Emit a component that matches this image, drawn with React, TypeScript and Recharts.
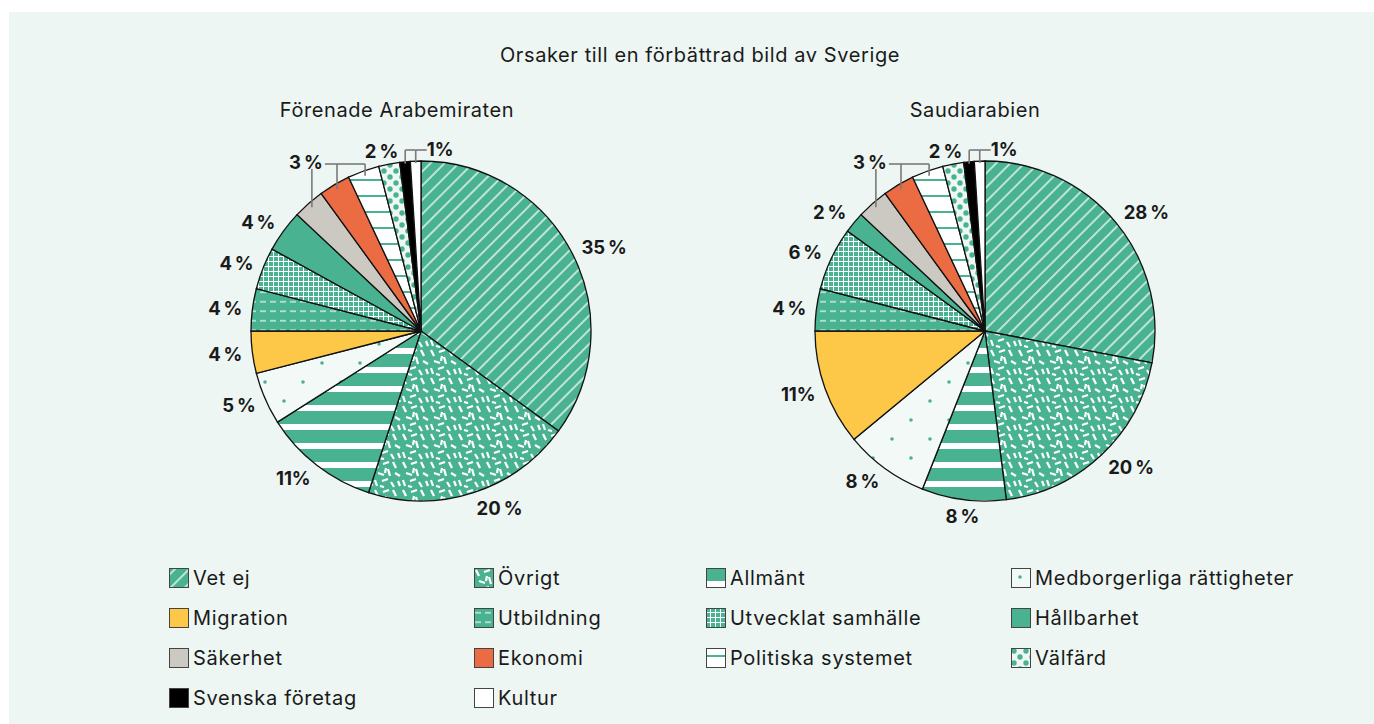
import React from 'react';
import { PieChart, Pie, Cell } from 'recharts';

const chartTitle = 'Orsaker till en förbättrad bild av Sverige';
const pieTitles = ['Förenade Arabemiraten', 'Saudiarabien'];
const categories = [
	'Vet ej', 'Övrigt', 'Allmänt', 'Medborgerliga rättigheter',
	'Migration', 'Utbildning', 'Utvecklat samhälle', 'Hållbarhet',
	'Säkerhet', 'Ekonomi', 'Politiska systemet', 'Välfärd',
	'Svenska företag', 'Kultur',
];
const uaeValues = [35, 20, 11, 5, 4, 4, 4, 4, 3, 3, 3, 2, 1, 1];
const saudiValues = [28, 20, 8, 8, 11, 4, 6, 2, 3, 3, 3, 2, 1, 1];

// slices whose labels are gathered with a bracket above the pie
const bracketBefore = ['Säkerhet', 'Ekonomi', 'Politiska systemet'];
const bracketAfter = ['Svenska företag', 'Kultur'];
const besideBracket = 'Välfärd';

const GREEN = '#49b291';
const FONT = 'Inter, "Noto Sans", sans-serif';
const fills = [
	'url(#p-vetej)', 'url(#p-ovrigt)', 'url(#p-allmant)', 'url(#p-medb)',
	'#fdc748', 'url(#p-utb)', 'url(#p-utv)', GREEN,
	'#ccc9c3', '#eb6b43', 'url(#p-pol)', 'url(#p-valf)',
	'#000000', '#ffffff',
];

const RAD = Math.PI / 180;

function fmt(v: number) {
	return String(v).endsWith('1') ? v + '%' : v + '\u2009%';
}

function makeLabel(values: number[]) {
	const total = values.reduce((a, b) => a + b, 0);
	const mids: number[] = [];
	let acc = 0;
	for (let v of values) {
		mids.push(90 - 360 * (acc + v / 2) / total);
		acc += v;
	}
	const idxBefore = bracketBefore.map(n => categories.indexOf(n));
	const idxAfter = bracketAfter.map(n => categories.indexOf(n));
	const idxBeside = categories.indexOf(besideBracket);

	return (props: any) => {
		const { cx, cy, outerRadius, index } = props;
		const r = outerRadius;
		const pt = (i: number, rr: number) => ({
			x: cx + rr * Math.cos(-mids[i] * RAD),
			y: cy + rr * Math.sin(-mids[i] * RAD),
		});
		const lineStyle = { stroke: '#7a7a7a', strokeWidth: 1.6, fill: 'none' };
		const textStyle: any = { fontFamily: FONT, fontWeight: 700, fontSize: 18.5, fill: '#1a1a1a' };

		let j = idxBefore.indexOf(index);
		if (j >= 0) {
			const lineY = cy - r + 3;
			const p = pt(index, r - 5);
			if (j === 0) {
				return (
					<g key={'l' + index}>
						<line x1={p.x} y1={lineY + 5} x2={p.x} y2={p.y} style={lineStyle} />
						<text x={p.x - 6} y={lineY - 2} textAnchor="middle" dominantBaseline="central" style={textStyle}>{fmt(values[index])}</text>
					</g>
				);
			}
			const first = pt(idxBefore[0], r - 5);
			const prevX = j === 1 ? first.x + 13 : pt(idxBefore[j - 1], r - 5).x;
			return (
				<g key={'l' + index}>
					<line x1={p.x} y1={lineY} x2={p.x} y2={p.y} style={lineStyle} />
					<line x1={prevX} y1={lineY} x2={p.x} y2={lineY} style={lineStyle} />
				</g>
			);
		}

		j = idxAfter.indexOf(index);
		if (j >= 0) {
			const lineY = cy - r - 11;
			const p = pt(index, r - 2);
			const parts = [<line key="v" x1={p.x} y1={lineY} x2={p.x} y2={p.y} style={lineStyle} />];
			if (j > 0) {
				const prev = pt(idxAfter[j - 1], r - 2);
				parts.push(<line key="h" x1={prev.x} y1={lineY} x2={p.x} y2={lineY} style={lineStyle} />);
			}
			if (j === idxAfter.length - 1) {
				parts.push(<line key="t" x1={p.x} y1={lineY} x2={p.x + 11} y2={lineY} style={lineStyle} />);
				parts.push(<text key="x" x={p.x + 11} y={lineY - 1} textAnchor="start" dominantBaseline="central" style={textStyle}>{fmt(values[index])}</text>);
			}
			return <g key={'l' + index}>{parts}</g>;
		}

		if (index === idxBeside) {
			const lineY = cy - r - 11;
			const p = pt(idxAfter[0], r - 2);
			return (
				<text key={'l' + index} x={p.x - 7} y={lineY + 1} textAnchor="end" dominantBaseline="central" style={textStyle}>{fmt(values[index])}</text>
			);
		}

		const cos = Math.cos(-mids[index] * RAD);
		const sin = Math.sin(-mids[index] * RAD);
		const x = cx + (r + 10) * cos;
		const y = cy + (r + 16) * sin;
		const anchor = Math.abs(cos) < 0.2 ? 'middle' : cos > 0 ? 'start' : 'end';
		return (
			<text key={'l' + index} x={x} y={y} textAnchor={anchor} dominantBaseline="central" style={textStyle}>{fmt(values[index])}</text>
		);
	};
}

function Patterns() {
	const dashes = [
		[2, 2, 5, 8], [10, 4, 16, 2], [20, 2, 23, 8], [5, 13, 11, 15], [15, 9, 17, 16],
		[22, 13, 27, 16], [2, 20, 4, 26], [9, 21, 15, 19], [18, 22, 21, 27], [25, 21, 27, 26],
		[12, 13, 13, 8], [7, 26, 11, 27],
	];
	return (
		<svg width={0} height={0} style={{ position: 'absolute' }}>
			<defs>
				<pattern id="p-vetej" patternUnits="userSpaceOnUse" width={10} height={10} patternTransform="rotate(45)">
					<rect width={10} height={10} fill={GREEN} />
					<line x1={5} y1={0} x2={5} y2={10} stroke="#fff" strokeWidth={1.3} />
				</pattern>
				<pattern id="p-ovrigt" patternUnits="userSpaceOnUse" width={28} height={28}>
					<rect width={28} height={28} fill={GREEN} />
					{dashes.map((d, i) => (
						<line key={i} x1={d[0]} y1={d[1]} x2={d[2]} y2={d[3]} stroke="#fff" strokeWidth={2.2} />
					))}
				</pattern>
				<pattern id="p-allmant" patternUnits="userSpaceOnUse" width={19} height={19}>
					<rect width={19} height={19} fill={GREEN} />
					<rect y={13} width={19} height={6} fill="#fff" />
				</pattern>
				<pattern id="p-medb" patternUnits="userSpaceOnUse" width={38} height={38}>
					<rect width={38} height={38} fill="#f3f9f7" />
					<circle cx={9} cy={9} r={1.8} fill={GREEN} />
					<circle cx={28} cy={28} r={1.8} fill={GREEN} />
				</pattern>
				<pattern id="p-utb" patternUnits="userSpaceOnUse" width={10} height={9.5}>
					<rect width={10} height={9.5} fill={GREEN} />
					<line x1={1} y1={4.75} x2={7} y2={4.75} stroke="#fff" strokeWidth={1.1} />
				</pattern>
				<pattern id="p-utv" patternUnits="userSpaceOnUse" width={5} height={5}>
					<rect width={5} height={5} fill={GREEN} />
					<line x1={4.5} y1={0} x2={4.5} y2={5} stroke="#fff" strokeWidth={1} />
					<line x1={0} y1={4.5} x2={5} y2={4.5} stroke="#fff" strokeWidth={1} />
				</pattern>
				<pattern id="p-pol" patternUnits="userSpaceOnUse" width={16} height={16}>
					<rect width={16} height={16} fill="#fff" />
					<line x1={0} y1={8} x2={16} y2={8} stroke={GREEN} strokeWidth={2} />
				</pattern>
				<pattern id="p-valf" patternUnits="userSpaceOnUse" width={12} height={12}>
					<rect width={12} height={12} fill="#eef7f3" />
					<circle cx={3} cy={3} r={2.7} fill={GREEN} />
					<circle cx={9} cy={9} r={2.7} fill={GREEN} />
				</pattern>
			</defs>
		</svg>
	);
}

export default function App() {
	const legendCols = [160, 465, 697, 1002];
	const legendRows = [554, 594, 634, 674];
	const headStyle: any = { position: 'absolute', textAlign: 'center', fontSize: 20, letterSpacing: 0.6 };

	return (
		<div style={{ position: 'fixed', left: 9, top: 12, right: 0, bottom: 0, background: '#edf6f3', fontFamily: FONT, color: '#1a1a1a' }}>
			<Patterns />
			<div style={{ ...headStyle, left: 0, width: 1382, top: 31 }}>{chartTitle}</div>
			<div style={{ ...headStyle, left: 188, width: 400, top: 86 }}>{pieTitles[0]}</div>
			<div style={{ ...headStyle, left: 766, width: 400, top: 86 }}>{pieTitles[1]}</div>
			<div style={{ position: 'absolute', left: 0, top: 0 }}>
				<PieChart width={1365} height={540} margin={{ top: 0, right: 0, bottom: 0, left: 0 }}>
					<Pie data={categories.map((c, i) => ({ name: c, value: uaeValues[i] }))} dataKey="value" cx={412} cy={319}
						outerRadius={170} startAngle={90} endAngle={-270} stroke="#111" strokeWidth={1.3}
						label={makeLabel(uaeValues)} labelLine={false} isAnimationActive={false}>
						{categories.map((c, i) => <Cell key={c} fill={fills[i]} />)}
					</Pie>
					<Pie data={categories.map((c, i) => ({ name: c, value: saudiValues[i] }))} dataKey="value" cx={976} cy={319}
						outerRadius={170} startAngle={90} endAngle={-270} stroke="#111" strokeWidth={1.3}
						label={makeLabel(saudiValues)} labelLine={false} isAnimationActive={false}>
						{categories.map((c, i) => <Cell key={c} fill={fills[i]} />)}
					</Pie>
				</PieChart>
			</div>
			{categories.map((c, i) => (
				<div key={c} style={{ position: 'absolute', left: legendCols[i % 4], top: legendRows[Math.floor(i / 4)], display: 'flex', alignItems: 'center', height: 24, fontSize: 20, letterSpacing: 0.7 }}>
					<svg width={20} height={20} style={{ marginRight: 4 }}>
						<rect x={0.5} y={0.5} width={19} height={19} fill={fills[i]} stroke="#444" strokeWidth={1} />
					</svg>
					<span>{c}</span>
				</div>
			))}
		</div>
	);
}
